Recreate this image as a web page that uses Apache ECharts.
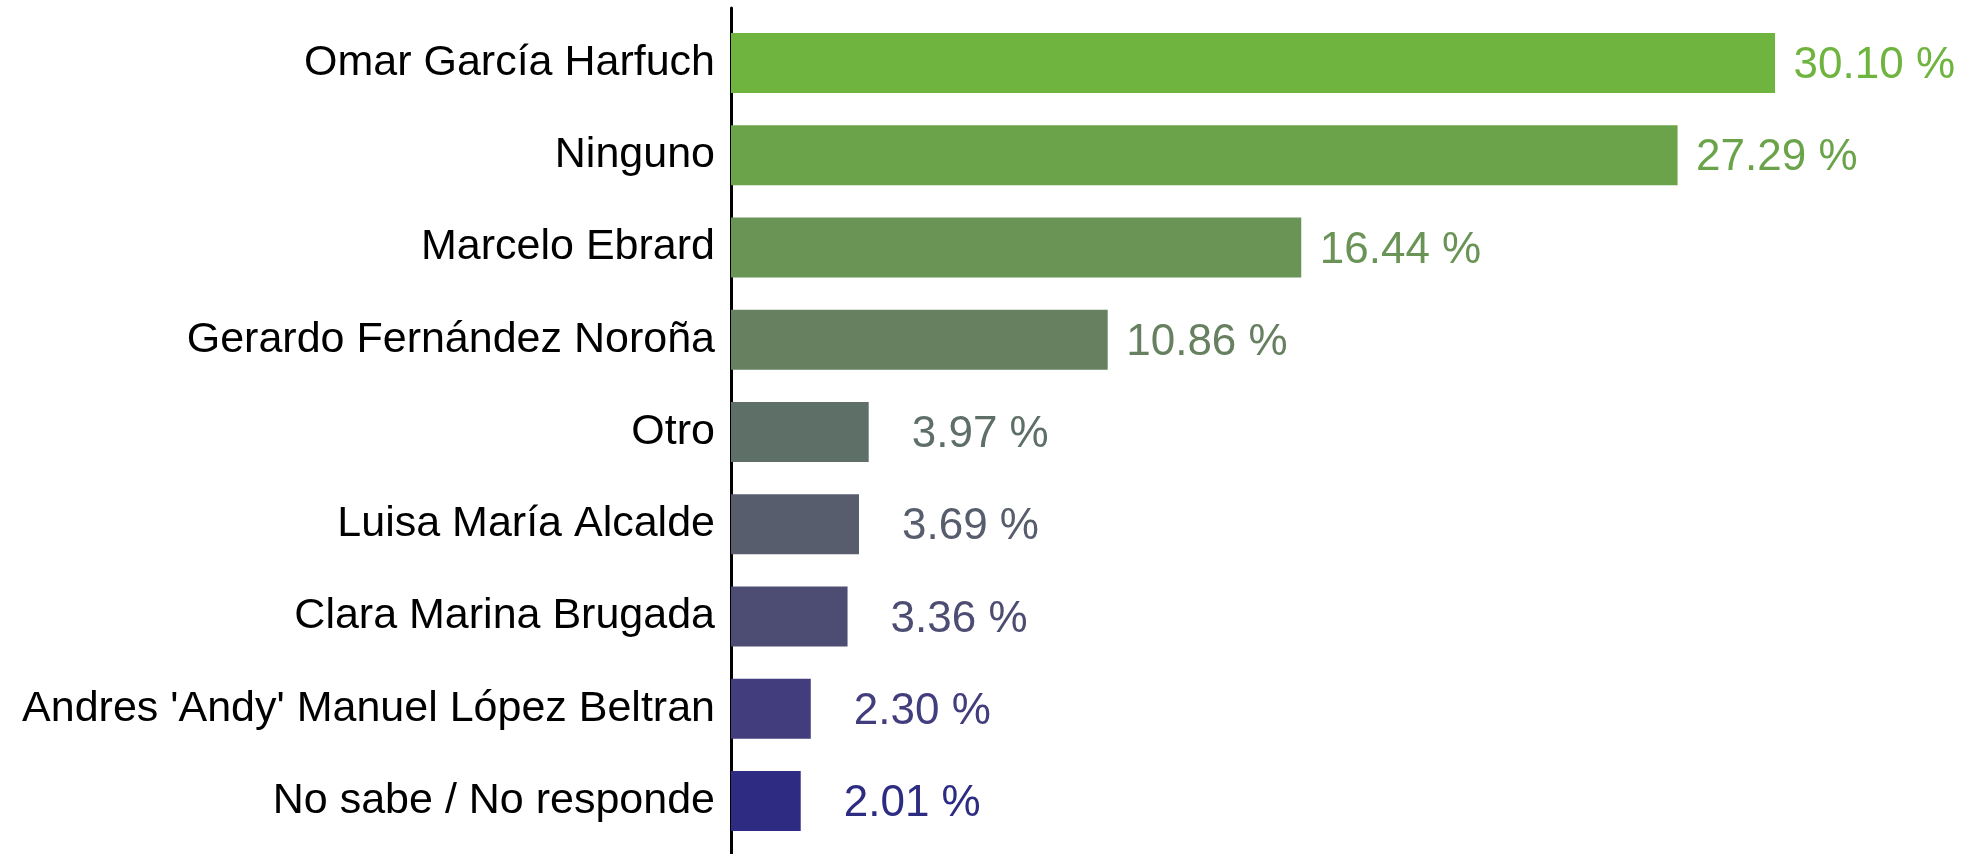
<!DOCTYPE html>
<html>
<head>
<meta charset="utf-8">
<script src="https://cdn.jsdelivr.net/npm/echarts@6/dist/echarts.min.js"></script>
<style>
html, body { margin: 0; padding: 0; background: #ffffff; }
#chart { width: 1974px; height: 854px; }
</style>
</head>
<body>
<div id="chart"></div>
<script>
const categories = [
  "Omar García Harfuch",
  "Ninguno",
  "Marcelo Ebrard",
  "Gerardo Fernández Noroña",
  "Otro",
  "Luisa María Alcalde",
  "Clara Marina Brugada",
  "Andres 'Andy' Manuel López Beltran",
  "No sabe / No responde"
];
const values = [30.10, 27.29, 16.44, 10.86, 3.97, 3.69, 3.36, 2.30, 2.01];
const colors = ["#6eb43f", "#6ba34b", "#6a9456", "#668060", "#5e6f67", "#575d6c", "#4d4d73", "#423d7c", "#2d2c82"];

const FONT = "'Liberation Sans', Arial, sans-serif";

const chart = echarts.init(document.getElementById('chart'), null, { renderer: 'canvas' });
chart.setOption({
  backgroundColor: '#ffffff',
  animation: false,
  grid: [
    { left: 731, width: 1214, top: 17, height: 830, containLabel: false },
    { left: 731, width: 1214, top: 8, bottom: 0, containLabel: false }
  ],
  xAxis: [
    { type: 'value', gridIndex: 0, min: 0, max: 35, show: false },
    { type: 'value', gridIndex: 1, min: 0, max: 35, show: false }
  ],
  yAxis: [
    {
      type: 'category', gridIndex: 0, inverse: true, data: categories,
      axisLine: { show: false }, axisTick: { show: false }, splitLine: { show: false },
      axisLabel: { color: '#000000', fontSize: 43, fontFamily: FONT, margin: 16, padding: [7, 0, 0, 0] }
    },
    {
      type: 'category', gridIndex: 1, data: [''],
      axisLine: { show: true, lineStyle: { color: '#000000', width: 3 } },
      axisTick: { show: false }, axisLabel: { show: false }, splitLine: { show: false }
    }
  ],
  series: [{
    type: 'bar',
    xAxisIndex: 0, yAxisIndex: 0,
    barWidth: 60,
    data: values.map((v, i) => ({
      value: v,
      itemStyle: { color: colors[i] },
      label: { color: colors[i] }
    })),
    label: {
      show: true,
      position: ['100%', '50%'],
      offset: [180, 3],
      align: 'right',
      verticalAlign: 'middle',
      fontSize: 44,
      fontFamily: FONT,
      formatter: p => p.value.toFixed(2) + ' %'
    }
  }]
});
</script>
</body>
</html>
